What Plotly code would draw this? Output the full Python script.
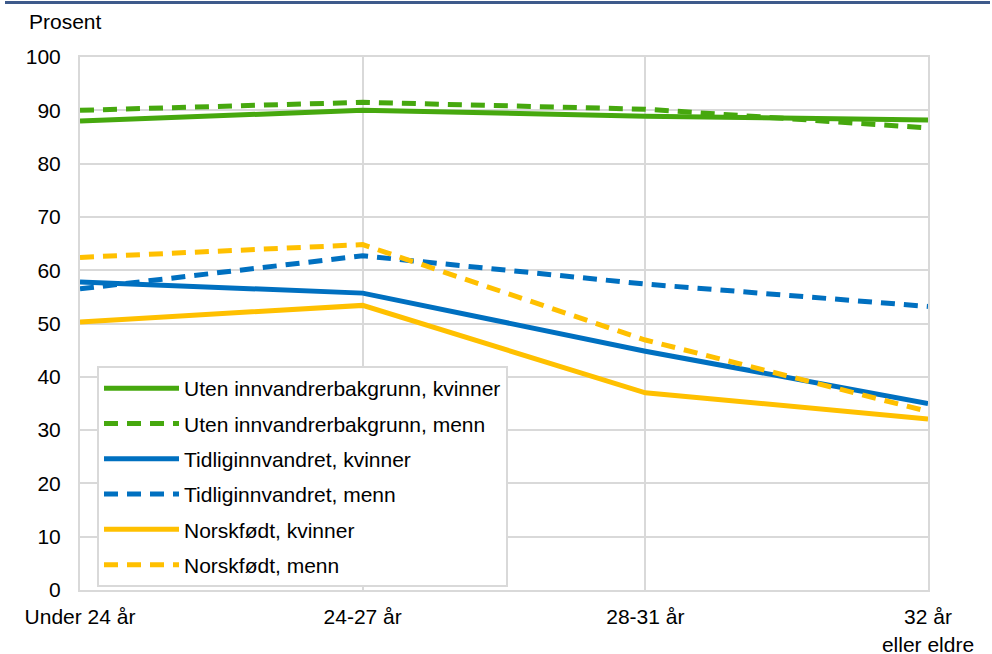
import plotly.graph_objects as go

categories = ["Under 24 år", "24-27 år", "28-31 år", "32 år<br>eller eldre"]
series_names = [
    "Uten innvandrerbakgrunn, kvinner",
    "Uten innvandrerbakgrunn, menn",
    "Tidliginnvandret, kvinner",
    "Tidliginnvandret, menn",
    "Norskfødt, kvinner",
    "Norskfødt, menn",
]
uten_kvinner = [88.0, 90.0, 88.9, 88.2]
uten_menn = [90.0, 91.5, 90.2, 86.7]
tidlig_kvinner = [57.8, 55.7, 44.8, 35.0]
tidlig_menn = [56.5, 62.7, 57.4, 53.2]
norsk_kvinner = [50.3, 53.4, 37.0, 32.1]
norsk_menn = [62.4, 64.8, 46.9, 33.5]
yticks = [0, 10, 20, 30, 40, 50, 60, 70, 80, 90, 100]

values = [uten_kvinner, uten_menn, tidlig_kvinner, tidlig_menn, norsk_kvinner, norsk_menn]
colors = ["#46A80E", "#46A80E", "#0070C0", "#0070C0", "#FFC000", "#FFC000"]
dashes = ["solid", "14px,9px", "solid", "14px,9px", "solid", "14px,9px"]

FONT = "Liberation Sans, Arial, sans-serif"
x_idx = list(range(len(categories)))

fig = go.Figure()
for i, (name, vals) in enumerate(zip(series_names, values)):
    fig.add_trace(go.Scatter(
        x=x_idx, y=vals, name=name, mode="lines",
        line=dict(color=colors[i], width=5, dash=dashes[i]),
        legendgroup=f"g{i}",
    ))

fig.update_layout(
    width=992, height=654,
    margin=dict(l=80, r=64, t=57, b=64, autoexpand=False),
    paper_bgcolor="white", plot_bgcolor="white",
    font=dict(family=FONT, size=21, color="black"),
    showlegend=True,
    legend=dict(
        x=(97 - 80) / 848, y=(590 - 366) / 533, xanchor="left", yanchor="top",
        bordercolor="#D9D9D9", borderwidth=2, bgcolor="white",
        font=dict(family=FONT, size=21, color="black"),
        itemwidth=75, tracegroupgap=5,
    ),
    xaxis=dict(
        range=[0, 3], tickmode="array", tickvals=x_idx, ticktext=categories,
        showgrid=True, gridcolor="#D9D9D9", gridwidth=2,
        showline=True, linecolor="#D9D9D9", linewidth=2, mirror=True,
        ticks="outside", ticklen=7, tickcolor="rgba(0,0,0,0)",
        zeroline=False, automargin=False, tickfont=dict(size=21),
    ),
    yaxis=dict(
        range=[0, 100], tickmode="array", tickvals=yticks,
        showgrid=True, gridcolor="#D9D9D9", gridwidth=2,
        showline=True, linecolor="#D9D9D9", linewidth=2, mirror=True,
        ticks="outside", ticklen=13, tickcolor="rgba(0,0,0,0)",
        zeroline=False, automargin=False, tickfont=dict(size=21),
    ),
    shapes=[dict(type="line", xref="paper", yref="paper",
                 x0=(5 - 80) / 848, x1=(990 - 80) / 848,
                 y0=1 + (57 - 2.5) / 533, y1=1 + (57 - 2.5) / 533,
                 line=dict(color="#3E5A8B", width=3))],
    annotations=[dict(text="Prosent", xref="paper", yref="paper",
                      x=(27 - 80) / 848, y=1 + (57 - 22) / 533,
                      xanchor="left", yanchor="middle",
                      showarrow=False, font=dict(size=21))],
)

fig.write_html("out.html", config={"displayModeBar": False},
               post_script="document.body.style.margin='0';")
